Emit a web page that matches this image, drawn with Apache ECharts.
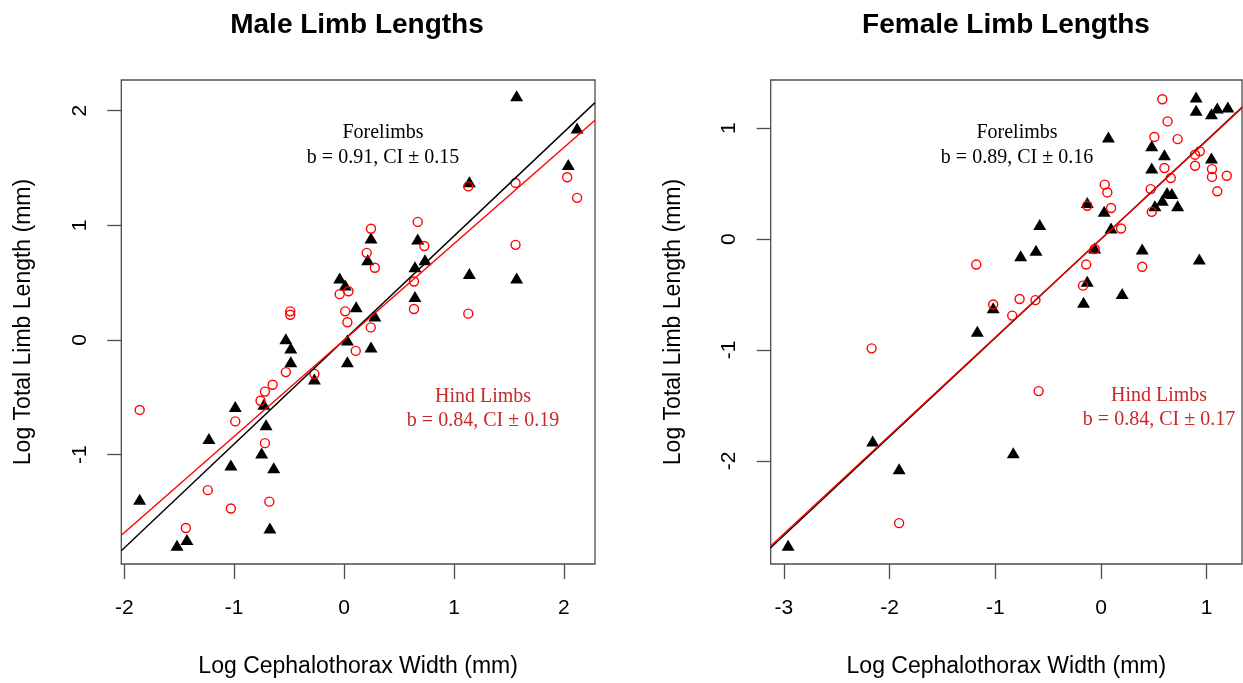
<!DOCTYPE html>
<html><head><meta charset="utf-8">
<script src="https://cdn.jsdelivr.net/npm/echarts@6/dist/echarts.min.js"></script>
<style>html,body{margin:0;padding:0;background:#fff}#c{width:1243px;height:683px}</style>
</head><body><div id="c"></div>
<script>
// ---------- data ----------
const maleFore = [[1.57,2.13],[2.12,1.85],[2.04,1.53],[1.14,1.38],[0.245,0.89],[0.67,0.88],[0.215,0.70],[0.736,0.70],[0.645,0.64],[1.14,0.58],[1.57,0.54],[0.645,0.38],[0.11,0.29],[0.28,0.21],[-0.04,0.54],[0.01,0.48],[0.03,0.0],[0.03,-0.19],[0.245,-0.06],[-0.53,0.01],[-0.485,-0.07],[-0.485,-0.19],[-0.27,-0.34],[-0.99,-0.58],[-0.73,-0.56],[-0.71,-0.74],[-1.23,-0.86],[-0.75,-0.985],[-1.03,-1.09],[-0.64,-1.115],[-1.86,-1.39],[-0.675,-1.64],[-1.43,-1.74],[-1.52,-1.79]];
const maleHind = [[1.56,1.37],[1.13,1.34],[2.03,1.42],[2.12,1.24],[0.245,0.97],[0.67,1.03],[0.73,0.82],[0.206,0.76],[0.28,0.63],[1.56,0.83],[0.636,0.51],[0.04,0.425],[-0.04,0.40],[0.636,0.27],[1.13,0.23],[0.01,0.25],[-0.49,0.25],[-0.49,0.22],[0.03,0.155],[0.243,0.11],[0.106,-0.095],[-0.53,-0.28],[-0.27,-0.295],[-0.65,-0.39],[-0.72,-0.45],[-0.76,-0.53],[-1.86,-0.61],[-0.99,-0.71],[-0.72,-0.90],[-1.24,-1.31],[-1.03,-1.47],[-0.68,-1.41],[-1.44,-1.64]];
const femaleFore = [[0.90,1.28],[0.90,1.16],[1.20,1.19],[1.10,1.18],[1.045,1.13],[0.07,0.92],[0.48,0.84],[0.60,0.76],[1.045,0.73],[0.48,0.64],[0.625,0.42],[0.67,0.41],[0.58,0.35],[0.51,0.30],[0.725,0.30],[-0.13,0.33],[0.03,0.25],[-0.58,0.13],[0.095,0.10],[-0.76,-0.15],[-0.615,-0.10],[-0.06,-0.08],[0.39,-0.09],[0.93,-0.18],[-0.13,-0.38],[0.20,-0.49],[-0.165,-0.57],[-1.02,-0.62],[-1.17,-0.83],[-2.16,-1.82],[-1.91,-2.07],[-2.96,-2.76],[-0.83,-1.925]];
const femaleHind = [[0.58,1.26],[0.63,1.06],[0.505,0.92],[0.725,0.90],[0.89,0.76],[0.935,0.79],[0.89,0.66],[0.60,0.64],[1.05,0.63],[1.05,0.56],[1.19,0.57],[1.10,0.43],[0.66,0.55],[0.47,0.45],[0.035,0.49],[0.06,0.42],[0.095,0.28],[-0.13,0.30],[0.48,0.245],[0.19,0.095],[-0.06,-0.09],[-0.14,-0.23],[0.39,-0.25],[-0.17,-0.42],[-0.77,-0.54],[-0.62,-0.55],[-0.84,-0.69],[-1.02,-0.59],[-1.18,-0.23],[-2.17,-0.985],[-1.91,-2.56],[-0.59,-1.37]];

// regression fits: [intercept, slope]
const maleForeFit = [0.0, 0.907];
const maleHindFit = [0.0, 0.840];
const femaleForeFit = [0.0, 0.890];
const femaleHindFit = [0.0, 0.885];

// axis ranges and ticks
const maleXRange = [-2.027, 2.283];
const maleYRange = [-1.954, 2.268];
const femaleXRange = [-3.125, 1.334];
const femaleYRange = [-2.928, 1.433];
const maleXTicks = [-2, -1, 0, 1, 2];
const maleYTicks = [-1, 0, 1, 2];
const femaleXTicks = [-3, -2, -1, 0, 1];
const femaleYTicks = [-2, -1, 0, 1];

const titles = ['Male Limb Lengths', 'Female Limb Lengths'];
const xName = 'Log Cephalothorax Width (mm)';
const yName = 'Log Total Limb Length (mm)';
const maleForeText = ['Forelimbs', 'b = 0.91, CI \u00b1 0.15'];
const maleHindText = ['Hind Limbs', 'b = 0.84, CI \u00b1 0.19'];
const femaleForeText = ['Forelimbs', 'b = 0.89, CI \u00b1 0.16'];
const femaleHindText = ['Hind Limbs', 'b = 0.84, CI \u00b1 0.17'];

// ---------- chart ----------
const SANS = 'Liberation Sans, Arial, sans-serif';
const SERIF = 'Liberation Serif, Times New Roman, serif';
const AX = '#4d4d4d';

function fitLine(fit, range) {
  return [[range[0], fit[0] + fit[1] * range[0]], [range[1], fit[0] + fit[1] * range[1]]];
}
function xAxisCfg(idx, range, ticks) {
  return {
    type: 'value', gridIndex: idx, min: range[0], max: range[1], position: 'bottom',
    axisLine: { show: false, onZero: false },
    axisTick: { show: true, inside: false, length: 15, customValues: ticks, lineStyle: { color: AX, width: 1.3 } },
    axisLabel: { show: true, customValues: ticks, margin: 34, fontFamily: SANS, fontSize: 21, color: '#000' },
    splitLine: { show: false },
    name: xName, nameLocation: 'middle', nameGap: 91,
    nameTextStyle: { fontFamily: SANS, fontSize: 23, color: '#000' }
  };
}
function yAxisCfg(idx, range, ticks) {
  return {
    type: 'value', gridIndex: idx, min: range[0], max: range[1], position: 'left',
    axisLine: { show: false, onZero: false },
    axisTick: { show: true, inside: false, length: 14, customValues: ticks, lineStyle: { color: AX, width: 1.3 } },
    axisLabel: { show: true, customValues: ticks, rotate: 90, margin: 31, fontFamily: SANS, fontSize: 21, color: '#000' },
    splitLine: { show: false },
    name: yName, nameLocation: 'middle', nameGap: 86,
    nameTextStyle: { fontFamily: SANS, fontSize: 23, color: '#000' }
  };
}
function triSeries(idx, data) {
  return { type: 'scatter', xAxisIndex: idx, yAxisIndex: idx, data: data, symbol: 'triangle', symbolSize: [13, 11],
    itemStyle: { color: '#000', opacity: 1 }, z: 3, silent: true };
}
function circSeries(idx, data) {
  return { type: 'scatter', xAxisIndex: idx, yAxisIndex: idx, data: data, symbol: 'circle', symbolSize: 9,
    itemStyle: { color: 'rgba(0,0,0,0)', borderColor: '#ff0000', borderWidth: 1.4, opacity: 1 }, z: 4, silent: true };
}
function lineSeries(idx, fit, range, color) {
  return { type: 'line', xAxisIndex: idx, yAxisIndex: idx, data: fitLine(fit, range), symbol: 'none', clip: true,
    lineStyle: { color: color, width: 1.4 }, z: 5, silent: true, animation: false };
}
function txt(x, y, text, opts) {
  return { type: 'text', x: x, y: y, style: Object.assign({ text: text, textAlign: 'center', textVerticalAlign: 'middle', fill: '#000', fontFamily: SERIF, fontSize: 20 }, opts || {}) };
}

const chart = echarts.init(document.getElementById('c'), null, { renderer: 'canvas' });
chart.setOption({
  animation: false,
  backgroundColor: '#fff',
  grid: [
    { left: 121.3, top: 80, width: 473.7, height: 487, show: true, borderColor: AX, borderWidth: 1.3, backgroundColor: 'transparent' },
    { left: 770.7, top: 80, width: 471.3, height: 487, show: true, borderColor: AX, borderWidth: 1.3, backgroundColor: 'transparent' }
  ],
  xAxis: [xAxisCfg(0, maleXRange, maleXTicks), xAxisCfg(1, femaleXRange, femaleXTicks)],
  yAxis: [yAxisCfg(0, maleYRange, maleYTicks), yAxisCfg(1, femaleYRange, femaleYTicks)],
  series: [
    triSeries(0, maleFore), circSeries(0, maleHind),
    lineSeries(0, maleForeFit, maleXRange, '#000'), lineSeries(0, maleHindFit, maleXRange, '#ff0000'),
    triSeries(1, femaleFore), circSeries(1, femaleHind),
    lineSeries(1, femaleForeFit, femaleXRange, '#000'), lineSeries(1, femaleHindFit, femaleXRange, '#ff0000')
  ],
  graphic: [
    txt(357, 25, titles[0], { fontFamily: SANS, fontWeight: 'bold', fontSize: 28 }),
    txt(1006, 25, titles[1], { fontFamily: SANS, fontWeight: 'bold', fontSize: 28 }),
    txt(383, 133, maleForeText[0]), txt(383, 158, maleForeText[1]),
    txt(483, 397, maleHindText[0], { fill: '#c82828' }), txt(483, 421, maleHindText[1], { fill: '#c82828' }),
    txt(1017, 133, femaleForeText[0]), txt(1017, 158, femaleForeText[1]),
    txt(1159, 396, femaleHindText[0], { fill: '#c82828' }), txt(1159, 420, femaleHindText[1], { fill: '#c82828' })
  ]
});
</script>
</body></html>
